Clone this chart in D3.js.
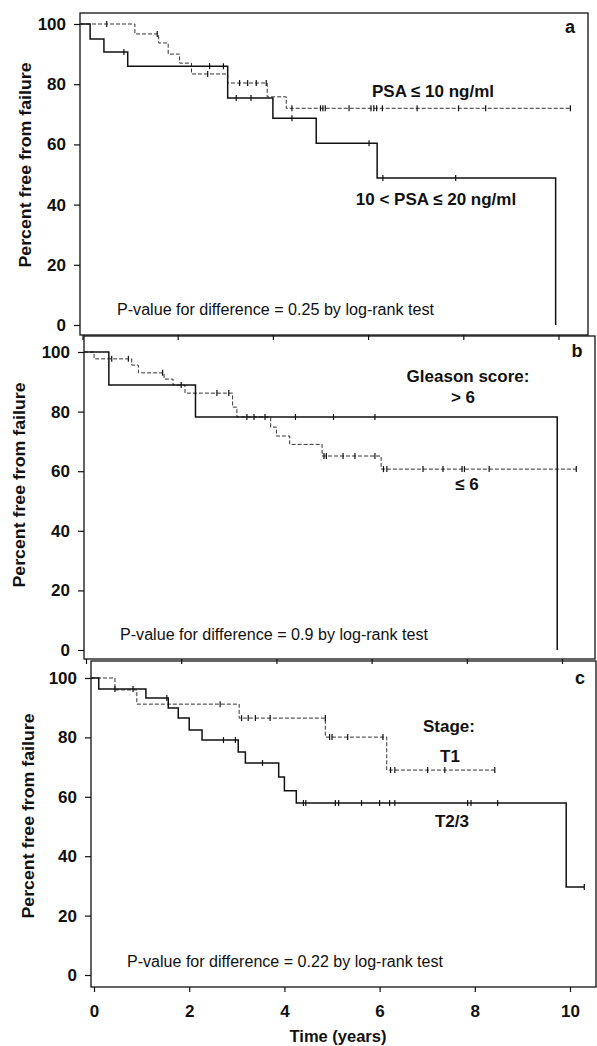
<!DOCTYPE html>
<html>
<head>
<meta charset="utf-8">
<script src="https://cdn.jsdelivr.net/npm/d3@7"></script>
<style>
  html, body { margin: 0; padding: 0; background: #fff; }
  svg { display: block; }
  text { font-family: "Liberation Sans", Arial, sans-serif; fill: #111; }
</style>
</head>
<body>
<svg id="chart" width="597" height="1046"></svg>
<script>
// step points [time, percent]; last point closes the curve
const psaLowSteps = [[0, 100], [1.1, 96.7], [1.6, 93.7], [1.8, 90.0], [2.04, 87.0], [2.29, 83.4], [3.05, 80.4], [3.88, 75.8], [4.28, 72.0], [10.25, 72.0]];
const psaLowCensor = [0.51, 1.57, 2.63, 3.3, 3.47, 3.65, 3.86, 4.4, 5.0, 5.05, 5.1, 5.6, 6.06, 6.12, 6.18, 6.3, 7.03, 7.9, 8.47, 10.25];
const psaHighSteps = [[0, 100], [0.16, 95.0], [0.45, 90.7], [0.95, 86.0], [3.05, 75.4], [4.0, 68.7], [4.91, 60.4], [6.19, 48.8], [9.94, 0]];
const psaHighCensor = [0.87, 2.67, 2.96, 3.23, 3.54, 4.4, 6.02, 6.31, 7.84];

const gleasonHighSteps = [[0, 100], [0.48, 88.9], [2.3, 78.2], [9.9, 0]];
const gleasonHighCensor = [4.4, 5.2, 6.07];
const gleasonLowSteps = [[0, 100], [0.17, 97.7], [0.96, 95.6], [1.1, 93.0], [1.64, 90.9], [1.83, 88.9], [2.08, 86.2], [3.08, 81.5], [3.17, 78.2], [3.88, 74.8], [4.0, 71.8], [4.28, 69.0], [4.96, 65.1], [6.2, 60.7], [10.3, 60.7]];
const gleasonLowCensor = [0.54, 0.89, 1.61, 2.0, 2.75, 3.0, 3.38, 3.53, 3.76, 5.0, 5.05, 5.4, 5.65, 6.07, 6.25, 6.32, 7.08, 7.5, 7.9, 7.95, 8.47, 10.3];

const stageT23Steps = [[0, 100], [0.1, 96.3], [1.09, 93.3], [1.56, 89.9], [1.77, 86.5], [2.0, 82.5], [2.27, 79.1], [3.03, 75.1], [3.18, 71.4], [3.88, 66.7], [4.0, 62.0], [4.25, 57.9], [9.92, 29.6], [10.3, 29.6]];
const stageT23Censor = [0.44, 0.82, 1.53, 2.72, 2.97, 3.54, 4.4, 4.45, 5.07, 5.14, 5.62, 6.0, 6.21, 6.32, 7.85, 7.92, 8.48, 10.3];
const stageT1Steps = [[0, 100], [0.44, 96.0], [0.9, 91.2], [3.05, 86.5], [4.86, 80.1], [6.15, 69.0], [8.42, 69.0]];
const stageT1Censor = [2.65, 3.1, 3.24, 3.39, 3.7, 4.86, 4.95, 5.0, 5.33, 6.07, 6.23, 6.32, 7.01, 7.37, 8.42];

const yTicks = [0, 20, 40, 60, 80, 100];
const xTicks = [0, 2, 4, 6, 8, 10];
const yTitle = "Percent free from failure";
const xTitle = "Time (years)";

const panels = [
  {
    letter: "a", top: 13, bottom: 335, left: 80, right: 588, x0: 82.5, y100: 24, y0: 325,
    titleX: 25, titleY: 165, letterX: 570, letterY: 33,
    pText: "P-value for difference = 0.25 by log-rank test", pX: 117, pY: 315, pW: 317,
    curves: [
      { steps: psaLowSteps, censor: psaLowCensor, dashed: true },
      { steps: psaHighSteps, censor: psaHighCensor, dashed: false }
    ],
    labels: [
      { text: "PSA ≤ 10 ng/ml", x: 433, y: 97 },
      { text: "10 < PSA ≤ 20 ng/ml", x: 436, y: 205 }
    ]
  },
  {
    letter: "b", top: 336, bottom: 659, left: 84, right: 595, x0: 86, y100: 352, y0: 650,
    titleX: 19, titleY: 485, letterX: 577, letterY: 357,
    pText: "P-value for difference = 0.9 by log-rank test", pX: 120, pY: 640, pW: 308,
    curves: [
      { steps: gleasonLowSteps, censor: gleasonLowCensor, dashed: true },
      { steps: gleasonHighSteps, censor: gleasonHighCensor, dashed: false }
    ],
    labels: [
      { text: "Gleason score:", x: 468, y: 382 },
      { text: "> 6", x: 463, y: 403 },
      { text: "≤ 6", x: 467, y: 490 }
    ]
  },
  {
    letter: "c", top: 661, bottom: 987, left: 91, right: 596, x0: 94, y100: 678, y0: 975,
    titleX: 28, titleY: 816, letterX: 580, letterY: 684,
    pText: "P-value for difference = 0.22 by log-rank test", pX: 127, pY: 967, pW: 316,
    curves: [
      { steps: stageT1Steps, censor: stageT1Censor, dashed: true },
      { steps: stageT23Steps, censor: stageT23Censor, dashed: false }
    ],
    labels: [
      { text: "Stage:", x: 449, y: 732 },
      { text: "T1", x: 450, y: 762 },
      { text: "T2/3", x: 452, y: 827 }
    ],
    xLabels: true
  }
];

const svg = d3.select("#chart");
const ink = "#111";

// survival value just before time t
function valueAt(steps, t) {
  let v = steps[0][1];
  for (const s of steps) { if (s[0] < t) v = s[1]; }
  return v;
}

panels.forEach(p => {
  const xs = d3.scaleLinear().domain([0, 10]).range([p.x0, p.x0 + 476]);
  const ys = d3.scaleLinear().domain([0, 100]).range([p.y0, p.y100]);
  const g = svg.append("g");

  g.append("rect")
    .attr("x", p.left).attr("y", p.top)
    .attr("width", p.right - p.left).attr("height", p.bottom - p.top)
    .attr("fill", "none").attr("stroke", ink).attr("stroke-width", 1.3);

  const yAxis = g.append("g")
    .attr("transform", `translate(${p.left},0)`)
    .call(d3.axisLeft(ys).tickValues(yTicks).tickSize(6).tickPadding(8));
  yAxis.select(".domain").remove();
  yAxis.selectAll("line").attr("stroke", ink).attr("stroke-width", 1.2);
  yAxis.selectAll("text")
    .style("font-size", "17px").style("font-weight", "bold")
    .style("font-family", '"Liberation Sans", Arial, sans-serif').attr("fill", ink);

  const xAxis = g.append("g")
    .attr("transform", `translate(0,${p.bottom})`)
    .call(d3.axisBottom(xs).tickValues(xTicks).tickSize(5).tickPadding(13)
      .tickFormat(p.xLabels ? d3.format("d") : ""));
  xAxis.select(".domain").remove();
  xAxis.selectAll("line").attr("stroke", ink).attr("stroke-width", 1.2);
  xAxis.selectAll("text")
    .style("font-size", "17px").style("font-weight", "bold")
    .style("font-family", '"Liberation Sans", Arial, sans-serif').attr("fill", ink);

  const line = d3.line()
    .x((d, i) => i === 0 ? p.left : xs(d[0]))
    .y(d => ys(d[1]))
    .curve(d3.curveStepAfter);

  p.curves.forEach(c => {
    g.append("path")
      .attr("d", line(c.steps))
      .attr("fill", "none")
      .attr("stroke", c.dashed ? "#333" : ink)
      .attr("stroke-width", c.dashed ? 1 : 1.5)
      .attr("stroke-dasharray", c.dashed ? "4,2" : null);

    g.selectAll(null)
      .data(c.censor)
      .enter().append("line")
      .attr("x1", d => xs(d)).attr("x2", d => xs(d))
      .attr("y1", d => ys(valueAt(c.steps, d)) - 3)
      .attr("y2", d => ys(valueAt(c.steps, d)) + 3)
      .attr("stroke", ink).attr("stroke-width", 1.2);
  });

  g.append("text")
    .attr("transform", `translate(${p.titleX},${p.titleY}) rotate(-90)`)
    .attr("text-anchor", "middle").attr("dy", "0.35em")
    .attr("textLength", 205).attr("lengthAdjust", "spacingAndGlyphs")
    .style("font-size", "17px").style("font-weight", "bold")
    .text(yTitle);

  g.append("text")
    .attr("x", p.pX).attr("y", p.pY)
    .attr("textLength", p.pW).attr("lengthAdjust", "spacingAndGlyphs")
    .style("font-size", "16px")
    .text(p.pText);

  g.append("text")
    .attr("x", p.letterX).attr("y", p.letterY)
    .attr("text-anchor", "middle")
    .style("font-size", "18px").style("font-weight", "bold")
    .text(p.letter);

  g.selectAll(null)
    .data(p.labels)
    .enter().append("text")
    .attr("x", d => d.x).attr("y", d => d.y)
    .attr("text-anchor", "middle")
    .style("font-size", "17px").style("font-weight", "bold")
    .text(d => d.text);
});

svg.append("text")
  .attr("x", 338).attr("y", 1042)
  .attr("text-anchor", "middle")
  .style("font-size", "16.5px").style("font-weight", "bold")
  .text(xTitle);
</script>
</body>
</html>
